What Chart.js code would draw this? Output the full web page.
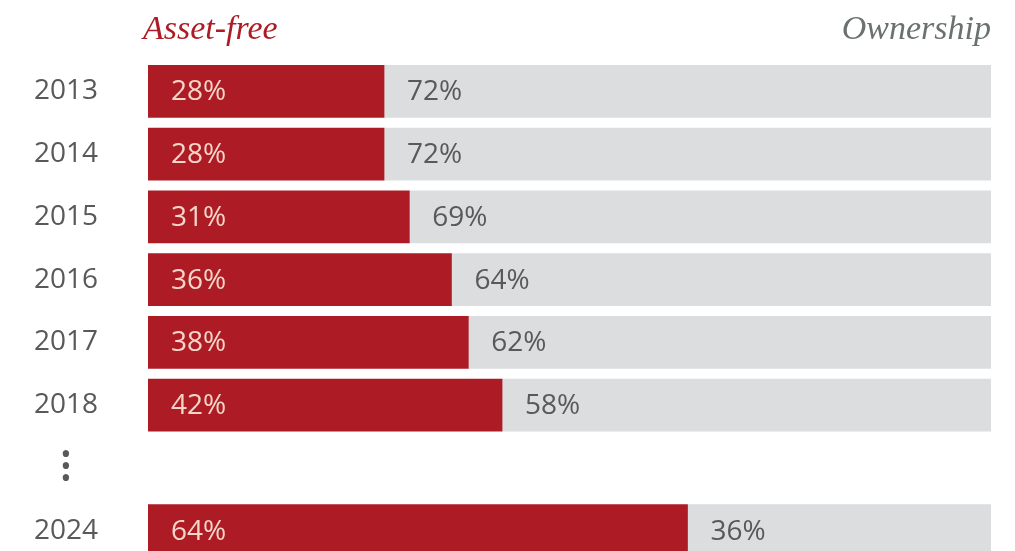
<!DOCTYPE html>
<html>
<head>
<meta charset="utf-8">
<script src="https://cdn.jsdelivr.net/npm/chart.js@4.4.1/dist/chart.umd.min.js"></script>
<style>
  html, body { margin: 0; padding: 0; background: #fff; overflow: hidden; }
  canvas { display: block; }
</style>
</head>
<body>
<canvas id="chart" width="1015" height="565"></canvas>
<script>
const years = ['2013', '2014', '2015', '2016', '2017', '2018', ['•', '•', '•'], '2024'];
const assetFree = [28, 28, 31, 36, 38, 42, null, 64];
const ownership = [72, 72, 69, 64, 62, 58, null, 36];
const headLeft = 'Asset-free';
const headRight = 'Ownership';

const RED = '#ad1c25';
const GREY = '#dcdddf';
const TEXT = '#58595b';

// percent labels inside the bars + the two column headers
const barLabels = {
    id: 'barLabels',
    afterDatasetsDraw(chart) {
        const ctx = chart.ctx;
        ctx.save();
        ctx.font = '28px "Open Sans"';
        ctx.textBaseline = 'middle';
        ctx.textAlign = 'left';
        chart.data.datasets.forEach((ds, i) => {
            chart.getDatasetMeta(i).data.forEach((bar, j) => {
                const v = ds.data[j];
                if (v == null) return;
                ctx.fillStyle = i === 0 ? '#f7d6ca' : TEXT;
                ctx.fillText(v + '%', bar.base + 23, bar.y + 1);
            });
        });
        ctx.font = 'italic 34px "Liberation Serif"';
        ctx.textBaseline = 'alphabetic';
        ctx.fillStyle = RED;
        ctx.fillText(headLeft, chart.chartArea.left - 5, 39);
        ctx.textAlign = 'right';
        ctx.fillStyle = '#6b7071';
        ctx.fillText(headRight, chart.chartArea.right, 39);
        ctx.restore();
    }
};

new Chart(document.getElementById('chart').getContext('2d'), {
    type: 'bar',
    data: {
        labels: years,
        datasets: [
            { label: headLeft, data: assetFree, backgroundColor: RED, barThickness: 52, borderWidth: 0 },
            { label: headRight, data: ownership, backgroundColor: GREY, barThickness: 52, borderWidth: 0 }
        ]
    },
    options: {
        indexAxis: 'y',
        responsive: false,
        animation: false,
        layout: { padding: { top: 60, right: 24, bottom: 3, left: 0 } },
        plugins: { legend: { display: false }, tooltip: { enabled: false } },
        scales: {
            x: { stacked: true, min: 0, max: 100, display: false },
            y: {
                stacked: true,
                grid: { display: false, drawTicks: false },
                border: { display: false },
                afterFit(scale) {
                    scale.width = 148;
                    scale.paddingTop = 0;
                    scale.paddingBottom = 0;
                },
                ticks: {
                    autoSkip: false,
                    padding: 50,
                    crossAlign: 'center',
                    color: TEXT,
                    font: c => c.index === 6
                        ? { family: 'Open Sans', size: 30, lineHeight: 0.4 }
                        : { family: 'Open Sans', size: 28 }
                }
            }
        }
    },
    plugins: [barLabels]
});
</script>
</body>
</html>
